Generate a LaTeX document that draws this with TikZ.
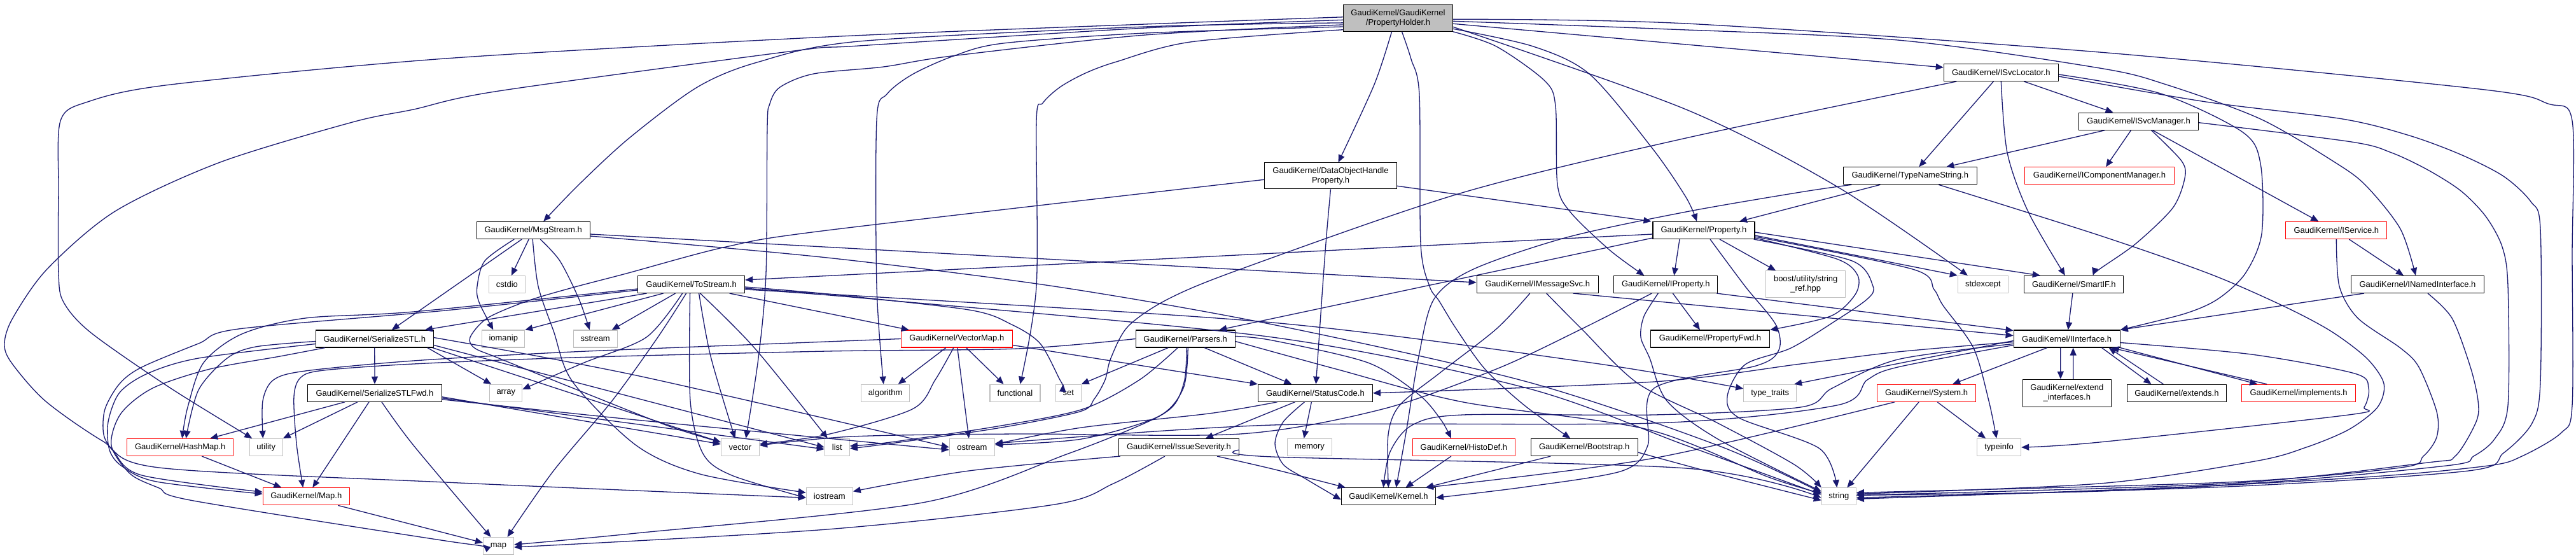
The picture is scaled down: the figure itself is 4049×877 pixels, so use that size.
\documentclass[tikz,border=0pt]{standalone}
\usepackage{fontspec}
\setmainfont{Liberation Sans}
\usetikzlibrary{arrows.meta}
\definecolor{edgec}{HTML}{191970}
\definecolor{boxgray}{HTML}{BFBFBF}
\newcommand\gkfont{\fontsize{13}{15.3}\selectfont}
\begin{document}
\begin{tikzpicture}[x=1pt,y=-1pt,
 box/.style={draw=black, line width=1.1pt, fill=white, inner sep=0pt, minimum height=27pt, align=center, font=\gkfont},
 gbox/.style={box, draw=boxgray},
 rbox/.style={box, draw=red},
 e/.style={draw=edgec, line width=1.3pt, -{Triangle[length=12pt,width=10pt]}}]
\fill[white] (0,0) rectangle (4049,877);
\useasboundingbox (0,0) rectangle (4049,877);
% nodes
\node[box,fill=boxgray,minimum width=172pt,minimum height=42pt] (ph) at (2197.5,28.3) {GaudiKernel/GaudiKernel\\/PropertyHolder.h};
\node[box,minimum width=208pt,minimum height=41pt] (dohp) at (2091.5,276.3) {GaudiKernel/DataObjectHandle\\Property.h};
\node[box,minimum width=178pt] (msgs) at (838.2,362) {GaudiKernel/MsgStream.h};
\node[box,minimum width=168pt] (tos) at (1086.6,447) {GaudiKernel/ToStream.h};
\node[gbox,minimum width=57pt] (cstdio) at (796.9,447) {cstdio};
\node[gbox,minimum width=67pt] (iomanip) at (791.3,532.5) {iomanip};
\node[gbox,minimum width=69pt] (sstream) at (935.7,532.5) {sstream};
\node[gbox,minimum width=51pt] (array) at (795.3,617.8) {array};
\node[gbox,minimum width=60pt] (vector) at (1163.4,703) {vector};
\node[gbox,minimum width=39pt] (list) at (1315.8,703) {list};
\node[gbox,minimum width=73pt] (iostream) at (1303.8,780.3) {iostream};
\node[gbox,minimum width=48pt] (map) at (783.5,858) {map};
\node[box,minimum width=185pt] (sstl) at (588.8,532.5) {GaudiKernel/SerializeSTL.h};
\node[box,minimum width=211pt] (sstlf) at (589,617.8) {GaudiKernel/SerializeSTLFwd.h};
\node[rbox,minimum width=167pt] (hashmap) at (283.3,703) {GaudiKernel/HashMap.h};
\node[gbox,minimum width=52pt] (utility) at (418.3,703) {utility};
\node[rbox,minimum width=136pt] (maph) at (481.3,780.3) {GaudiKernel/Map.h};
\node[rbox,minimum width=175pt] (vmap) at (1503.8,532.5) {GaudiKernel/VectorMap.h};
\node[box,minimum width=156pt] (parsers) at (1863.2,532.5) {GaudiKernel/Parsers.h};
\node[gbox,minimum width=76pt] (algorithm) at (1391.7,617.8) {algorithm};
\node[gbox,minimum width=79pt] (functional) at (1595.5,617.8) {functional};
\node[gbox,minimum width=40pt] (set) at (1679.2,617.8) {set};
\node[gbox,minimum width=71pt] (ostream) at (1527.9,703) {ostream};
\node[box,minimum width=189pt] (issue) at (1852.9,703) {GaudiKernel/IssueSeverity.h};
\node[box,minimum width=191pt] (imsg) at (2416.7,447) {GaudiKernel/IMessageSvc.h};
\node[box,minimum width=163pt] (iprop) at (2618.3,447) {GaudiKernel/IProperty.h};
\node[box,minimum width=180pt] (statusc) at (2067.4,617.8) {GaudiKernel/StatusCode.h};
\node[gbox,minimum width=70pt] (memory) at (2058.5,703) {memory};
\node[rbox,minimum width=161pt] (histodef) at (2300.9,703) {GaudiKernel/HistoDef.h};
\node[box,minimum width=168pt] (bootstrap) at (2490.2,703) {GaudiKernel/Bootstrap.h};
\node[box,minimum width=148pt] (kernel) at (2182.4,780.3) {GaudiKernel/Kernel.h};
\node[box,minimum width=187pt] (propfwd) at (2688,532.5) {GaudiKernel/PropertyFwd.h};
\node[box,minimum width=180pt] (isvcloc) at (3145.3,114) {GaudiKernel/ISvcLocator.h};
\node[box,minimum width=188pt] (isvcman) at (3361.5,190.7) {GaudiKernel/ISvcManager.h};
\node[box,minimum width=210pt] (tns) at (3002.3,276.3) {GaudiKernel/TypeNameString.h};
\node[rbox,minimum width=235pt] (icompman) at (3300,276.3) {GaudiKernel/IComponentManager.h};
\node[box,minimum width=160pt] (prop) at (2678,362) {GaudiKernel/Property.h};
\node[gbox,minimum width=125pt,minimum height=42pt] (boost) at (2838.2,446.8) {boost/utility/string\\\_ref.hpp};
\node[gbox,minimum width=79pt] (stdexcept) at (3116.8,447) {stdexcept};
\node[box,minimum width=156pt] (smartif) at (3259.8,447) {GaudiKernel/SmartIF.h};
\node[box,minimum width=167pt] (iif) at (3248.6,532.5) {GaudiKernel/IInterface.h};
\node[gbox,minimum width=83pt] (typetraits) at (2782.2,617.8) {type\_traits};
\node[rbox,minimum width=155pt] (system) at (3028.1,617.8) {GaudiKernel/System.h};
\node[box,minimum width=139pt,minimum height=43pt] (extif) at (3248.8,617.8) {GaudiKernel/extend\\\_interfaces.h};
\node[gbox,minimum width=69pt] (typeinfo) at (3142.1,703) {typeinfo};
\node[gbox,minimum width=54pt] (string) at (2890.3,780.3) {string};
\node[rbox,minimum width=159pt] (iservice) at (3672.3,362) {GaudiKernel/IService.h};
\node[box,minimum width=209pt] (inamed) at (3799.9,447) {GaudiKernel/INamedInterface.h};
\node[box,minimum width=156pt] (extends) at (3421.4,617.8) {GaudiKernel/extends.h};
\node[rbox,minimum width=179pt] (implements) at (3613.1,617.8) {GaudiKernel/implements.h};
% ---- edges from PropertyHolder
\draw[e] plot[smooth,tension=.5] coordinates {(ph.179) (1800,38) (1300,58) (700,92) (268,133) (138,160) (95,190) (92,300) (92,430) (100,475) (143,523) (268,610) ([xshift=-22pt]utility.north)};
\draw[e] plot[smooth,tension=.5] coordinates {(ph.182) (1800,44) (1350,72) (1248,80) (784,143) (650,172) (554,192) (346,255) (181,332) (74,423) (20,500) (7,540) (18,570) (71,630) (161,693) (250,735) (700,758) ([yshift=-2pt]iostream.west)};
\draw[e] plot[smooth,tension=.5] coordinates {(ph.185) (1800,42) (1350,65) (1190,98) (1096,137) (989,217) (910,290) ([xshift=16pt]msgs.north)};
\draw[e] plot[smooth,tension=.5] coordinates {(ph.187) (1800,55) (1496,88) (1389,105) (1279,116) (1226,137) (1210,163) (1206,200) (1204,430) (1192,563) ([xshift=9pt]vector.north)};
\draw[e] plot[smooth,tension=.5] coordinates {(ph.189) (1800,52) (1577,68) (1499,88) (1434,117) (1394,148) (1378,188) (1378,450) ([xshift=-3pt]algorithm.north)};
\draw[e] plot[smooth,tension=.5] coordinates {(ph.192) (1871,66) (1755,97) (1706,115) (1666,137) (1639,162) (1629,190) (1629,450) ([xshift=8pt]functional.north)};
\draw[e] plot[smooth,tension=.5] coordinates {([xshift=-10pt]ph.south) (2160,133) ([xshift=12pt]dohp.north)};
\draw[e] plot[smooth,tension=.5] coordinates {([xshift=6pt]ph.south) (2218,93) (2231,150) (2233,383) (2247,450) (2262,473) (2289,517) (2334,580) (2396,637) ([xshift=-22pt]bootstrap.north)};
\draw[e] plot[smooth,tension=.5] coordinates {(ph.south east) (2352,73) (2428,127) (2445,167) (2448,290) (2468,333) (2530,393) ([xshift=-34pt]iprop.north)};
\draw[e] plot[smooth,tension=.5] coordinates {([yshift=-17pt]ph.east) (2410,73) (2499,117) (2597,233) (2650,310) ([xshift=-11pt]prop.north)};
\draw[e] plot[smooth,tension=.5] coordinates {([yshift=-2pt]ph.east) (2650,37) (3300,82) (3897,140) (4005,163) (4043,190) (4043,400) (4043,637) (4026,680) (3964,717) (3911,732) (3716,750) (3300,772) ([yshift=2pt]string.east)};
\draw[e] plot[smooth,tension=.5] coordinates {([yshift=-5pt]ph.east) (2600,45) (2983,63) (3300,107) (3405,133) (3553,187) (3673,257) (3720,293) (3773,360) ([xshift=-3pt]inamed.north)};
\draw[e] ([yshift=-9pt]ph.east) -- ([yshift=8pt]isvcloc.west);
\draw[e] plot[smooth,tension=.5] coordinates {([yshift=-14pt]ph.east) (2650,172) (2887,293) ([xshift=-24pt]stdexcept.north)};
% ---- DataObjectHandleProperty
\draw[e] ([yshift=-16pt]dohp.east) -- ([xshift=-2pt]prop.north west);
\draw[e] plot[smooth,tension=.5] coordinates {(dohp.south) (2085,370) (2079,450) ([xshift=1pt]statusc.north)};
\draw[e] plot[smooth,tension=.5] coordinates {([yshift=-6pt]dohp.west) (1300,362) (1141,388) (984,430) (900,452) (829,473) (766,500) (739,530) (746,547) (784,563) (918,617) (1052,670) ([yshift=8pt]vector.west)};
% ---- MsgStream
\draw[e] ([xshift=-7pt]msgs.south) -- ([xshift=7pt]cstdio.north);
\draw[e] plot[smooth,tension=.5] coordinates {([xshift=-30pt]msgs.south) (762,410) (750,450) (753,475) ([xshift=-16pt]iomanip.north)};
\draw[e] plot[smooth,tension=.5] coordinates {([xshift=11pt]msgs.south) (880,410) (910,470) ([xshift=-9pt]sstream.north)};
\draw[e] ([xshift=-18pt]msgs.south) -- ([xshift=27pt]sstl.north);
\draw[e] plot[smooth,tension=.5] coordinates {([xshift=-1pt]msgs.south) (846,450) (870,520) (900,600) (1000,700) (1100,745) ([yshift=6pt]iostream.west)};
\draw[e] ([yshift=-6pt]msgs.east) -- ([yshift=3pt]imsg.west);
\draw[e] plot[smooth,tension=.5] coordinates {([yshift=-9pt]msgs.east) (1300,405) (1657,450) (2000,510) (2400,600) (2700,700) ([yshift=6pt]string.west)};
% ---- ToStream
\draw[e] ([xshift=-70pt]tos.south) -- ([xshift=79pt]sstl.north);
\draw[e] ([xshift=-44pt]tos.south) -- ([xshift=34pt]iomanip.north);
\draw[e] ([xshift=-25pt]tos.south) -- ([xshift=26pt]sstream.north);
\draw[e] plot[smooth,tension=.5] coordinates {([xshift=-14pt]tos.south) (1016,530) (918,570) ([yshift=6pt]array.east)};
\draw[e] plot[smooth,tension=.5] coordinates {([xshift=-8pt]tos.south) (1034,530) (962,630) (870,740) ([xshift=14pt]map.north)};
\draw[e] plot[smooth,tension=.5] coordinates {([xshift=12pt]tos.south) (1117,560) ([xshift=-8pt]vector.north)};
\draw[e] plot[smooth,tension=.5] coordinates {([xshift=14pt]tos.south) (1186,547) ([xshift=-15pt]list.north)};
\draw[e] plot[smooth,tension=.5] coordinates {([xshift=-2pt]tos.south) (1085,630) (1105,713) (1150,747) ([yshift=-2pt]iostream.west)};
\draw[e] plot[smooth,tension=.5] coordinates {([yshift=-7pt]tos.west) (650,490) (480,500) (380,525) (320,570) (295,640) ([xshift=3pt]hashmap.north)};
\draw[e] plot[smooth,tension=.5] coordinates {([yshift=-9pt]tos.west) (700,488) (375,517) (312,540) (223,577) (188,603) (165,643) (163,683) (179,710) (223,747) ([yshift=7pt]maph.west)};
\draw[e] ([xshift=60pt]tos.south) -- ([xshift=-75pt]vmap.north);
\draw[e] plot[smooth,tension=.5] coordinates {([yshift=-4pt]tos.east) (1300,462) (1523,487) (1590,510) (1635,540) (1666,597) ([xshift=-8pt]set.north)};
\draw[e] plot[smooth,tension=.5] coordinates {([yshift=-6pt]tos.east) (1300,462) (2000,507) (2500,570) ([yshift=7pt]typetraits.west)};
\draw[e] plot[smooth,tension=.5] coordinates {([yshift=-8pt]tos.east) (1350,468) (2000,530) (2400,610) (2650,700) ([yshift=3pt]string.west)};
% ---- SerializeSTL
\draw[e] (sstl.south) -- (sstlf.north);
\draw[e] plot[smooth,tension=.5] coordinates {([yshift=-4pt]sstl.west) (402,545) (357,563) (312,613) ([xshift=9pt]hashmap.north)};
\draw[e] plot[smooth,tension=.5] coordinates {([yshift=-8pt]sstl.west) (312,563) (232,587) (188,617) (170,663) (172,707) (192,733) (246,757) ([yshift=4pt]maph.west)};
\draw[e] plot[smooth,tension=.5] coordinates {([xshift=-78pt]sstl.south) (440,560) (330,580) (240,610) (190,650) (175,700) (205,745) (250,767) (304,787) (700,850) ([yshift=2pt]map.west)};
\draw[e] ([xshift=-2pt]sstl.south east) -- ([yshift=8pt]vector.west);
\draw[e] ([yshift=-10pt]sstl.east) -- (list.west);
\draw[e] ([xshift=-10pt]sstl.south east) -- ([xshift=3pt]array.north west);
\draw[e] plot[smooth,tension=.5] coordinates {([yshift=2pt]sstl.east) (1000,590) (ostream.west)};
% ---- SerializeSTLFwd
\draw[e] ([xshift=-47pt]sstlf.south) -- ([xshift=47pt]hashmap.north);
\draw[e] ([xshift=-27pt]sstlf.south) -- (utility.north east);
\draw[e] ([xshift=-9pt]sstlf.south) -- ([xshift=10pt]maph.north);
\draw[e] plot[smooth,tension=.5] coordinates {([xshift=11pt]sstlf.south) (650,700) ([xshift=-12pt]map.north)};
\draw[e] ([yshift=-6pt]sstlf.east) -- ([yshift=5pt]vector.west);
\draw[e] ([yshift=-8pt]sstlf.east) -- ([yshift=-3pt]list.west);
\draw[e] plot[smooth,tension=.5] coordinates {([yshift=-10pt]sstlf.east) (1000,660) ([yshift=-4pt]ostream.west)};
% ---- HashMap, Map
\draw[e] ([xshift=34pt]hashmap.south) -- ([xshift=-39pt]maph.north);
\draw[e] ([xshift=50pt]maph.south) -- ([yshift=5pt]map.west);
% ---- VectorMap
\draw[e] ([xshift=-17pt]vmap.south) -- ([xshift=20pt]algorithm.north);
\draw[e] plot[smooth,tension=.5] coordinates {([xshift=-5pt]vmap.south) (1470,597) (1434,643) (1300,683) ([yshift=5pt]vector.east)};
\draw[e] ([xshift=1pt]vmap.south) -- ([xshift=-5pt]ostream.north);
\draw[e] ([xshift=15pt]vmap.south) -- ([xshift=-18pt]functional.north);
\draw[e] plot[smooth,tension=.5] coordinates {(vmap.west) (1300,537) (900,553) (650,567) (480,583) (430,597) (413,630) ([xshift=-5pt]utility.north)};
\draw[e] ([yshift=-10pt]vmap.east) -- (statusc.north west);
% ---- Parsers
\draw[e] ([xshift=-27pt]parsers.south) -- (set.north east);
\draw[e] plot[smooth,tension=.5] coordinates {(parsers.west) (1600,548) (1300,552) (900,562) (650,572) (509,582) (473,593) (462,623) (466,697) ([xshift=-5pt]maph.north)};
\draw[e] plot[smooth,tension=.5] coordinates {([xshift=-12pt]parsers.south) (1791,597) (1702,643) (1568,670) (1400,695) ([yshift=2pt]list.east)};
\draw[e] plot[smooth,tension=.5] coordinates {([xshift=4pt]parsers.south) (1860,610) (1820,655) (1700,690) ([yshift=4pt]ostream.east)};
\draw[e] plot[smooth,tension=.5] coordinates {([xshift=2pt]parsers.south) (1862,597) (1845,637) (1804,663) (1679,713) (1450,790) (1000,838) ([yshift=2pt]map.east)};
\draw[e] ([xshift=30pt]parsers.south) -- ([xshift=-37pt]statusc.north);
\draw[e] plot[smooth,tension=.5] coordinates {([yshift=4pt]parsers.east) (2000,535) (2150,570) (2230,620) (2265,660) ([xshift=-20pt]histodef.north)};
\draw[e] plot[smooth,tension=.5] coordinates {([yshift=-4pt]parsers.east) (2100,580) (2300,632) (2590,675) (2780,750) ([yshift=5pt]string.west)};
% ---- IssueSeverity
\draw[e] plot[smooth,tension=.5] coordinates {([xshift=60pt]issue.south) (2000,737) ([xshift=7pt]kernel.north west)};
\draw[e] plot[smooth,tension=.5] coordinates {([yshift=-4pt]issue.east) (2000,718) (2650,736) ([yshift=-2pt]string.west)};
\draw[e] plot[smooth,tension=.5] coordinates {([xshift=-22pt]issue.south) (1750,760) (1657,793) (1300,832) ([yshift=-2pt]map.east)};
\draw[e] plot[smooth,tension=.5] coordinates {([xshift=-92pt]issue.south) (1523,740) ([yshift=8pt]iostream.east)};
% ---- StatusCode
\draw[e] ([xshift=-6pt]statusc.south) -- ([xshift=-9pt]memory.north);
\draw[e] plot[smooth,tension=.5] coordinates {([xshift=-17pt]statusc.south) (2017,663) (2004,697) (2017,730) (2053,753) ([yshift=-5pt]kernel.west)};
\draw[e] ([xshift=-32pt]statusc.south) -- ([xshift=42pt]issue.north);
\draw[e] plot[smooth,tension=.5] coordinates {([xshift=-60pt]statusc.south) (1900,650) (1700,672) ([yshift=5pt]ostream.east)};
% ---- HistoDef, Bootstrap
\draw[e] ([xshift=-20pt]histodef.south) -- ([xshift=27pt]kernel.north);
\draw[e] ([xshift=-53pt]bootstrap.south) -- ([xshift=-16pt]kernel.north east);
\draw[e] plot[smooth,tension=.5] coordinates {([yshift=-8pt]bootstrap.east) (2700,745) ([yshift=-6pt]string.west)};
% ---- IMessageSvc
\draw[e] ([xshift=56pt]imsg.south) -- ([yshift=5pt]iif.west);
\draw[e] plot[smooth,tension=.5] coordinates {([xshift=-12pt]imsg.south) (2352,517) (2262,587) (2200,637) (2182,683) (kernel.north)};
\draw[e] plot[smooth,tension=.5] coordinates {([xshift=14pt]imsg.south) (2486,517) (2575,603) (2700,665) (2820,730) (string.north west)};
% ---- IProperty
\draw[e] ([xshift=11pt]iprop.south) -- ([xshift=-16pt]propfwd.north);
\draw[e] ([xshift=-2pt]iprop.south east) -- ([yshift=13pt]iif.west);
\draw[e] plot[smooth,tension=.5] coordinates {([xshift=-12pt]iprop.south) (2584,497) (2579,530) (2593,563) (2620,630) (2700,690) ([yshift=8pt]string.west)};
\draw[e] plot[smooth,tension=.5] coordinates {([xshift=-22pt]iprop.south) (2486,517) (2352,580) (2173,643) (1950,682) (1600,682) (1340,686) ([yshift=3pt]vector.east)};
% ---- Property
\draw[e] ([yshift=-6pt]prop.west) -- ([yshift=7pt]tos.east);
\draw[e] ([yshift=-12pt]prop.west) -- ([xshift=53pt]parsers.north);
\draw[e] ([xshift=-38pt]prop.south) -- ([xshift=13pt]iprop.north);
\draw[e] ([xshift=25pt]prop.south) -- ([xshift=-47pt]boost.north);
\draw[e] plot[smooth,tension=.5] coordinates {([yshift=-12pt]prop.east) (2887,407) (2920,433) (2916,463) (2877,497) (propfwd.north east)};
\draw[e] plot[smooth,tension=.5] coordinates {([xshift=10pt]prop.south) (2743,450) (2791,510) (2796,550) (2760,575) (2600,610) (2590,700) (2550,740) (2400,765) ([yshift=-2pt]kernel.east)};
\draw[e] ([yshift=-3pt]prop.east) -- ([xshift=-53pt]smartif.north);
\draw[e] ([yshift=-8pt]prop.east) -- (stdexcept.north west);
\draw[e] plot[smooth,tension=.5] coordinates {([xshift=-2pt]prop.south east) (2911,410) (2944,450) (2935,470) (2887,503) (2815,547) (2743,573) (2715,623) (2734,657) (2860,705) ([xshift=-3pt]string.north)};
\draw[e] plot[smooth,tension=.5] coordinates {([yshift=-10pt]prop.east) (3006,423) (3040,455) (3054,480) (3102,547) (3126,630) ([xshift=-4pt]typeinfo.north)};
% ---- ISvcLocator
\draw[e] ([xshift=-12pt]isvcloc.south) -- ([xshift=14pt]tns.north);
\draw[e] plot[smooth,tension=.5] coordinates {(isvcloc.south) (3155,240) (3188,333) ([xshift=-14pt]smartif.north)};
\draw[e] ([xshift=36pt]isvcloc.south) -- ([xshift=-40pt]isvcman.north);
\draw[e] plot[smooth,tension=.5] coordinates {([yshift=-3pt]isvcloc.east) (3396,147) (3524,207) (3553,257) (3555,367) (3529,430) (3486,470) (3434,493) (iif.north east)};
\draw[e] plot[smooth,tension=.5] coordinates {([yshift=-6pt]isvcloc.east) (3467,160) (3682,187) (3787,213) (3868,243) (3935,277) (3978,317) (3993,360) (3993,600) (3980,665) (3935,712) (3880,740) (3500,765) ([yshift=-2pt]string.east)};
\draw[e] plot[smooth,tension=.5] coordinates {([xshift=-70pt]isvcloc.south) (2650,217) (2298,303) (1950,423) (1836,470) (1773,513) (1746,563) (1737,597) (1720,627) (1697,647) (1568,673) (1400,697) ([yshift=-2pt]list.east)};
% ---- ISvcManager
\draw[e] ([xshift=-53pt]isvcman.south) -- ([xshift=57pt]tns.north);
\draw[e] ([xshift=-12pt]isvcman.south) -- ([xshift=10pt]icompman.north);
\draw[e] plot[smooth,tension=.5] coordinates {([xshift=20pt]isvcman.south) (3429,253) (3434,280) (3415,327) (3357,383) (3300,423) ([xshift=30pt]smartif.north)};
\draw[e] ([xshift=22pt]isvcman.south) -- ([xshift=-28pt]iservice.north);
\draw[e] plot[smooth,tension=.5] coordinates {([yshift=-2pt]isvcman.east) (3696,223) (3759,240) (3816,267) (3868,300) (3907,340) (3933,388) (3942,450) (3942,637) (3921,690) (3888,717) (3845,732) (3500,762) ([yshift=-4pt]string.east)};
% ---- TypeNameString
\draw[e] ([xshift=-47pt]tns.south) -- ([xshift=56pt]prop.north);
\draw[e] plot[smooth,tension=.5] coordinates {([xshift=45pt]tns.south) (3300,370) (3472,430) (3587,480) (3663,520) (3720,563) (3747,603) (3737,640) (3692,675) (3625,703) (3544,725) (3300,760) ([yshift=4pt]string.east)};
\draw[e] plot[smooth,tension=.5] coordinates {([xshift=-92pt]tns.south) (2830,302) (2650,333) (2463,373) (2316,423) (2254,470) (2230,560) (2210,680) ([xshift=12pt]kernel.north)};
% ---- IInterface
\draw[e] ([xshift=-10pt]iif.south) -- ([xshift=-10pt]extif.north);
\draw[e] ([xshift=10pt]extif.north) -- ([xshift=10pt]iif.south);
\draw[e] ([xshift=55pt]iif.south) -- ([xshift=-40pt]extends.north);
\draw[e] ([xshift=-21pt]extends.north) -- ([xshift=66pt]iif.south);
\draw[e] (iif.south east) -- ([xshift=-65pt]implements.north);
\draw[e] ([xshift=-50pt]implements.north) -- ([xshift=-14pt]iif.south east);
\draw[e] plot[smooth,tension=.5] coordinates {([yshift=-6pt]iif.east) (3539,557) (3701,587) (3723,610) (3716,640) (3692,652) (3300,695) (typeinfo.east)};
\draw[e] ([xshift=-31pt]iif.south) -- ([xshift=41pt]system.north);
\draw[e] ([yshift=-3pt]iif.west) -- ([xshift=38pt]typetraits.north);
\draw[e] plot[smooth,tension=.5] coordinates {([yshift=-5pt]iif.west) (2983,553) (2830,572) (2600,600) (statusc.east)};
\draw[e] plot[smooth,tension=.5] coordinates {([yshift=-8pt]iif.west) (2983,565) (2880,610) (2830,640) (2600,652) (2300,652) (2220,668) (2185,710) ([xshift=-8pt]kernel.north)};
\draw[e] plot[smooth,tension=.5] coordinates {([yshift=-10pt]iif.west) (2983,577) (2935,597) (2887,637) (2600,665) (2000,668) ([yshift=6pt]ostream.east)};
% ---- SmartIF
\draw[e] ([xshift=-2pt]smartif.south) -- ([xshift=2pt]iif.north);
% ---- System
\draw[e] ([xshift=17pt]system.south) -- ([xshift=-21pt]typeinfo.north);
\draw[e] ([xshift=-12pt]system.south) -- ([xshift=13pt]string.north);
\draw[e] plot[smooth,tension=.5] coordinates {([xshift=-50pt]system.south) (2600,720) ([xshift=-16pt]kernel.north east)};
% ---- IService, INamedInterface
\draw[e] ([xshift=20pt]iservice.south) -- ([xshift=-22pt]inamed.north);
\draw[e] plot[smooth,tension=.5] coordinates {(iservice.south) (3677,450) (3706,500) (3773,547) (3802,577) (3830,647) (3830,687) (3809,717) (3773,735) (3500,758) ([yshift=6pt]string.east)};
\draw[e] ([xshift=-84pt]inamed.south) -- (iif.north east);
\draw[e] plot[smooth,tension=.5] coordinates {([xshift=16pt]inamed.south) (3854,500) (3883,577) (3895,630) (3892,663) (3859,717) (3816,727) (3500,760) ([yshift=2pt]string.east)};
\end{tikzpicture}
\end{document}
